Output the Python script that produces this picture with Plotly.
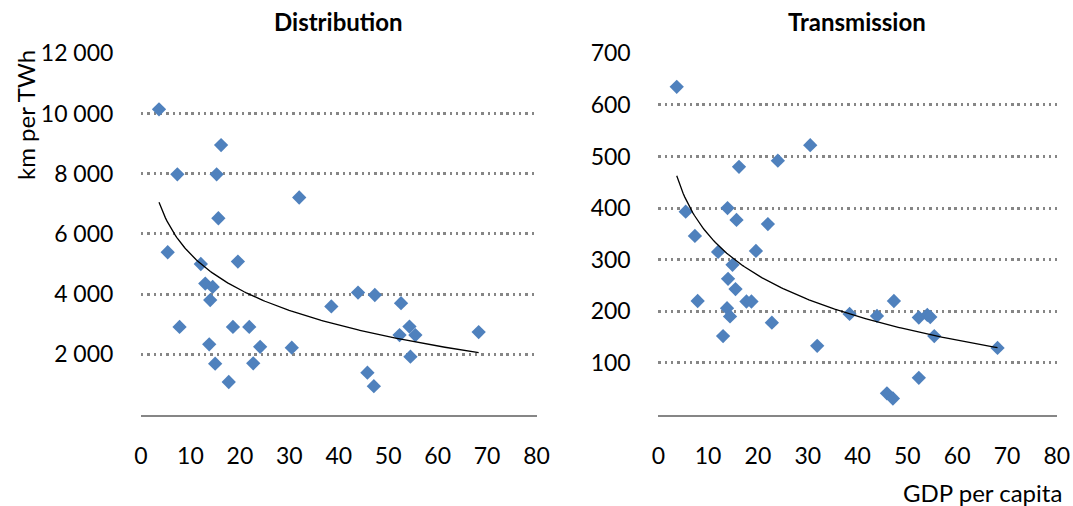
import numpy as np
import plotly.graph_objects as go

# Distribution panel (GDP per capita vs km per TWh)
dist_gdp = [3.64, 7.35, 16.2, 15.3, 15.65, 32.0, 5.4, 12.1, 19.6, 13.0, 14.5, 14.0,
            7.8, 18.6, 21.9, 13.8, 24.1, 30.5, 15.0, 22.7, 17.75, 38.5, 43.9, 47.3,
            52.6, 52.3, 54.3, 55.5, 54.5, 45.8, 47.1, 68.3]
dist_km = [10140, 7980, 8950, 7980, 6520, 7210, 5390, 5000, 5080, 4350, 4240, 3800,
           2910, 2910, 2910, 2330, 2250, 2220, 1690, 1700, 1080, 3590, 4050, 3970,
           3700, 2640, 2920, 2640, 1920, 1390, 940, 2740]

# Transmission panel
trans_gdp = [3.7, 5.5, 7.35, 16.2, 13.9, 15.7, 24.0, 30.5, 22.0, 12.0, 19.6, 14.9,
             14.0, 15.5, 7.9, 17.7, 18.7, 13.8, 14.4, 13.0, 22.8, 31.9, 38.4, 43.9,
             47.3, 52.3, 54.0, 54.6, 55.4, 68.1, 52.3, 45.9, 47.1]
trans_km = [635, 393, 346, 480, 400, 377, 492, 522, 369, 315, 317, 290,
            263, 243, 220, 219, 219, 206, 190, 152, 178, 133, 195, 191,
            220, 188, 193, 189, 152, 129, 71, 41, 31]

x_ticks = [0, 10, 20, 30, 40, 50, 60, 70, 80]
dist_ticks = [2000, 4000, 6000, 8000, 10000, 12000]
dist_labels = ["2 000", "4 000", "6 000", "8 000", "10 000", "12 000"]
trans_ticks = [100, 200, 300, 400, 500, 600, 700]
trans_labels = ["100", "200", "300", "400", "500", "600", "700"]

W, H = 1073, 506
FONT = "Lato"
BLUE = "#4F81BD"
GRID = "#868686"


def log_trend(x, y):
    x = np.asarray(x, float)
    y = np.asarray(y, float)
    b, a = np.polyfit(np.log(x), y, 1)
    xs = np.linspace(x.min(), x.max(), 200)
    return xs, a + b * np.log(xs)


fig = go.Figure()

for i, (gx, gy) in enumerate([(dist_gdp, dist_km), (trans_gdp, trans_km)]):
    xa = "x" if i == 0 else "x2"
    ya = "y" if i == 0 else "y2"
    fig.add_trace(go.Scatter(x=gx, y=gy, mode="markers", xaxis=xa, yaxis=ya,
                             marker=dict(symbol="diamond", size=11, color=BLUE,
                                         line=dict(width=0)),
                             showlegend=False, hoverinfo="skip"))
    tx, ty = log_trend(gx, gy)
    fig.add_trace(go.Scatter(x=tx, y=ty, mode="lines", xaxis=xa, yaxis=ya,
                             line=dict(color="black", width=1.3),
                             showlegend=False, hoverinfo="skip"))

ybot = 1 - 414.5 / H
ytop = 1 - 53.3 / H

xcommon = dict(range=[0, 80], tickvals=x_ticks, showgrid=False, zeroline=False,
               showline=True, linecolor=GRID, linewidth=1.5,
               ticks="outside", ticklen=20, tickcolor="rgba(0,0,0,0)",
               tickfont=dict(family=FONT, size=23, color="black"), automargin=False)
ycommon = dict(showgrid=True, gridcolor=GRID, gridwidth=2.6, griddash="2.4px,3.9px",
               zeroline=False, showline=False,
               ticks="outside", ticklen=22, tickcolor="rgba(0,0,0,0)",
               tickfont=dict(family=FONT, size=23, color="black"), automargin=False,
               domain=[ybot, ytop])

fig.update_layout(
    width=W, height=H,
    margin=dict(l=0, r=0, t=0, b=0),
    paper_bgcolor="white", plot_bgcolor="white",
    font=dict(family=FONT, color="black"),
    xaxis=dict(domain=[141 / W, 536.5 / W], anchor="y", **xcommon),
    xaxis2=dict(domain=[658.3 / W, 1056.8 / W], anchor="y2", **xcommon),
    yaxis=dict(range=[0, 12000], tickvals=dist_ticks, ticktext=dist_labels,
               anchor="x", **ycommon),
    yaxis2=dict(range=[0, 700], tickvals=trans_ticks, ticktext=trans_labels,
                anchor="x2", **ycommon),
    annotations=[
        dict(text="<b>Distribution</b>", x=338.5 / W, y=1 - 22 / H, xref="paper",
             yref="paper", showarrow=False, font=dict(family=FONT, size=24),
             xanchor="center", yanchor="middle"),
        dict(text="<b>Transmission</b>", x=857 / W, y=1 - 22 / H, xref="paper",
             yref="paper", showarrow=False, font=dict(family=FONT, size=24),
             xanchor="center", yanchor="middle"),
        dict(text="km per TWh", x=25 / W, y=1 - 115 / H, xref="paper", yref="paper",
             showarrow=False, textangle=-90, font=dict(family=FONT, size=24),
             xanchor="center", yanchor="middle"),
        dict(text="GDP per capita", x=982 / W, y=1 - 492 / H, xref="paper",
             yref="paper", showarrow=False, font=dict(family=FONT, size=24),
             xanchor="center", yanchor="middle"),
    ],
)

fig.write_html("out.html", config={"displayModeBar": False},
               post_script="document.body.style.margin='0';document.body.style.overflow='hidden';")
